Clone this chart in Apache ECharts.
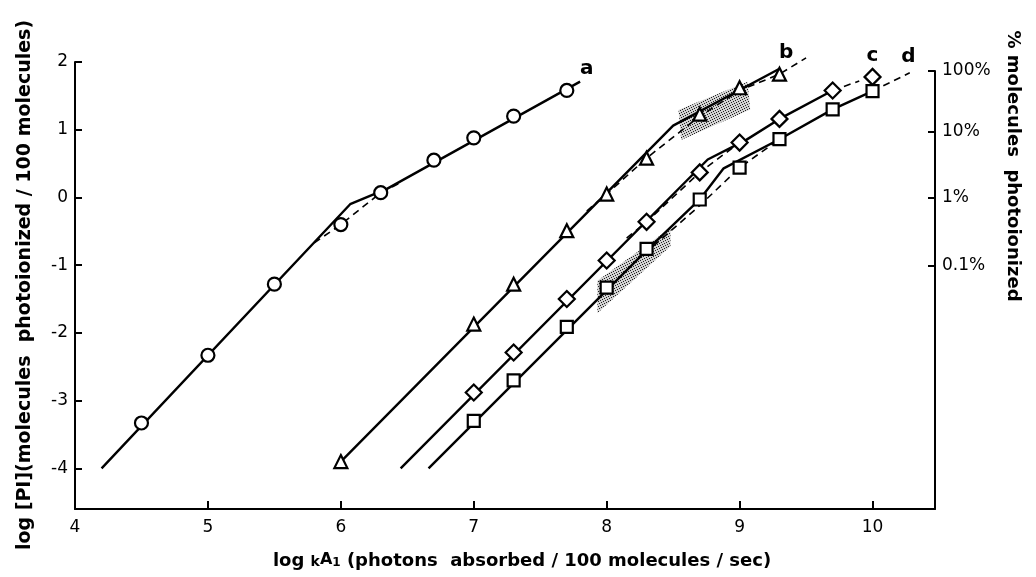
<!DOCTYPE html>
<html>
<head>
<meta charset="utf-8">
<script src="https://cdn.jsdelivr.net/npm/echarts@6/dist/echarts.min.js"></script>
<style>
html, body { margin: 0; padding: 0; background: #fff; }
#chart { width: 1036px; height: 577px; }
</style>
</head>
<body>
<div id="chart"></div>
<script>
// axis ticks
var xTicks = [4, 5, 6, 7, 8, 9, 10];
var yTicks = [-4, -3, -2, -1, 0, 1, 2];
var pctTicks = [1.87, 0.97, 0, -1];
var pctLabels = ['100%', '10%', '1%', '0.1%'];

// measured points (log k, log [PI])
var aX = [4.5, 5, 5.5, 6, 6.3, 6.7, 7, 7.3, 7.7];
var aY = [-3.33, -2.33, -1.28, -0.40, 0.07, 0.55, 0.88, 1.2, 1.58];
var bX = [6, 7, 7.3, 7.7, 8, 8.3, 8.7, 9, 9.3];
var bY = [-3.9, -1.87, -1.28, -0.49, 0.05, 0.58, 1.23, 1.62, 1.82];
var cX = [7, 7.3, 7.7, 8, 8.3, 8.7, 9, 9.3, 9.7, 10];
var cY = [-2.88, -2.29, -1.5, -0.93, -0.36, 0.37, 0.81, 1.16, 1.58, 1.78];
var dX = [7, 7.3, 7.7, 8, 8.3, 8.7, 9, 9.3, 9.7, 10];
var dY = [-3.3, -2.7, -1.91, -1.33, -0.76, -0.03, 0.44, 0.86, 1.3, 1.57];

// drawn curves: solid fits and dashed fits
var aSolid = [[4.2, -4], [6.07, -0.1], [6.35, 0.13], [7.8, 1.71]];
var aDash = [[5.8, -0.67], [6, -0.4], [6.3, 0.07], [6.45, 0.22]];
var bSolid = [[6, -3.9], [8.5, 1.06], [9.3, 1.9]];
var bDash = [[7.85, -0.2], [8, 0.05], [8.3, 0.58], [8.7, 1.2], [9, 1.58], [9.3, 1.82], [9.5, 2.06]];
var cSolid = [[6.45, -4], [8.76, 0.56], [9.05, 0.85], [9.3, 1.16], [9.7, 1.58]];
var cDash = [[8.15, -0.6], [8.3, -0.36], [8.7, 0.37], [9, 0.81]];
var cDash2 = [[9.7, 1.58], [9.9, 1.72]];
var dSolid = [[6.66, -4], [8.3, -0.78], [8.7, -0.03], [8.88, 0.43], [9.3, 0.86], [9.7, 1.3], [10, 1.57]];
var dDash = [[8.35, -0.72], [8.7, -0.12], [9, 0.44], [9.3, 0.86]];
var dDash2 = [[10, 1.57], [10.28, 1.84]];

// stippled regions
var shadeB = [[8.54, 1.29], [9.06, 1.71], [9.08, 1.30], [8.56, 0.85]];
var shadeD = [[7.93, -1.23], [8.48, -0.45], [8.48, -0.72], [7.93, -1.71]];

// curve letters
var curveNames = ['a', 'b', 'c', 'd'];
var curveNamePos = [[7.85, 1.9], [9.35, 2.13], [10.0, 2.09], [10.27, 2.08]];

var FONT = '"DejaVu Sans", sans-serif';

function zip(xs, ys) {
  return xs.map(function(x, i) { return [x, ys[i]] })
}

// stipple dots for the shaded bands
var dotCanvas = document.createElement('canvas')
dotCanvas.width = 5
dotCanvas.height = 5
var dctx = dotCanvas.getContext('2d')
dctx.fillStyle = 'rgba(0,0,0,0.18)'
dctx.fillRect(0, 0, 5, 5)
dctx.fillStyle = 'rgba(0,0,0,0.85)'
;[[0, 0], [3, 1], [1, 2], [4, 3], [2, 4]].forEach(function(p) {
  dctx.fillRect(p[0], p[1], 1, 1)
})

function shadeSeries(pts) {
  return {
    type: 'custom',
    xAxisIndex: 0,
    yAxisIndex: 0,
    clip: false,
    z: 1,
    data: pts,
    renderItem: function(params, api) {
      if (params.dataIndex !== 0) return
      var p = pts.map(function(d) { return api.coord(d) })
      return {
        type: 'polygon',
        shape: { points: p },
        style: { fill: { image: dotCanvas, repeat: 'repeat' } }
      }
    }
  }
}

function lineSeries(data, dashed) {
  return {
    type: 'line',
    xAxisIndex: 0,
    yAxisIndex: 0,
    data: data,
    showSymbol: false,
    symbol: 'none',
    clip: false,
    z: 2,
    lineStyle: { color: '#000', width: dashed ? 1.6 : 2.4, type: dashed ? [7, 5] : 'solid' }
  }
}

function markSeries(data, symbol, size) {
  return {
    type: 'scatter',
    xAxisIndex: 0,
    yAxisIndex: 0,
    data: data,
    symbol: symbol,
    symbolSize: size,
    clip: false,
    z: 3,
    itemStyle: { color: '#fff', borderColor: '#000', borderWidth: 2.2, opacity: 1 }
  }
}

var chart = echarts.init(document.getElementById('chart'))
chart.setOption({
  animation: false,
  backgroundColor: '#fff',
  grid: [
    { left: 75, right: 101, top: 62, bottom: 68, outerBoundsMode: 'none', containLabel: false },
    { left: 75, right: 101, top: 71, bottom: 68, outerBoundsMode: 'none', containLabel: false }
  ],
  xAxis: [
    {
      type: 'value', gridIndex: 0, min: 4, max: 10.47, interval: 1,
      axisLine: { show: true, onZero: false, lineStyle: { color: '#000', width: 2 } },
      axisTick: { show: true, inside: true, length: 8, lineStyle: { color: '#000', width: 2 } },
      axisLabel: {
        color: '#000', fontSize: 17, fontFamily: FONT, margin: 10,
        showMaxLabel: false,
        formatter: function(v) { return xTicks.indexOf(v) >= 0 ? String(v) : '' }
      },
      splitLine: { show: false }
    },
    { type: 'value', gridIndex: 1, min: 4, max: 10.47, show: false }
  ],
  yAxis: [
    {
      type: 'value', gridIndex: 0, min: -4.6, max: 2,
      axisLine: { show: true, onZero: false, lineStyle: { color: '#000', width: 2 } },
      axisTick: { show: true, inside: true, length: 7, customValues: yTicks, lineStyle: { color: '#000', width: 2 } },
      axisLabel: {
        color: '#000', fontSize: 17, fontFamily: FONT, margin: 7, customValues: yTicks,
        formatter: function(v) { return String(v) }
      },
      splitLine: { show: false }
    },
    {
      type: 'value', gridIndex: 1, position: 'right', min: -4.6, max: 1.87,
      axisLine: { show: true, onZero: false, lineStyle: { color: '#000', width: 2 } },
      axisTick: { show: true, inside: true, length: 7, customValues: pctTicks, lineStyle: { color: '#000', width: 2 } },
      axisLabel: {
        color: '#000', fontSize: 17, fontFamily: FONT, margin: 7, customValues: pctTicks,
        formatter: function(v) {
          var i = pctTicks.indexOf(v)
          return i >= 0 ? pctLabels[i] : ''
        }
      },
      splitLine: { show: false }
    }
  ],
  graphic: [
    {
      type: 'text', x: 25, y: 285, rotation: Math.PI / 2,
      style: {
        text: 'log [PI](molecules  photoionized / 100 molecules)',
        fill: '#000', font: 'bold 19px ' + FONT, align: 'center', verticalAlign: 'middle'
      }
    },
    {
      type: 'text', x: 1013, y: 166, rotation: -Math.PI / 2,
      style: {
        text: '% molecules  photoionized',
        fill: '#000', font: 'bold 18px ' + FONT, align: 'center', verticalAlign: 'middle'
      }
    },
    {
      type: 'text', x: 522, y: 561,
      style: {
        text: '{n|log }{k|k}{s|A}{t|1}{n| (photons  absorbed / 100 molecules / sec)}',
        fill: '#000', font: 'bold 18px ' + FONT, align: 'center', verticalAlign: 'middle',
        rich: {
          n: { fontSize: 18, fontFamily: FONT, fontWeight: 'bold', height: 28, verticalAlign: 'middle' },
          k: { fontSize: 14, fontFamily: FONT, fontWeight: 'bold', verticalAlign: 'top', height: 28, padding: [3, 0, 0, 0] },
          s: { fontSize: 16, fontFamily: FONT, fontWeight: 'bold', verticalAlign: 'bottom', height: 28, padding: [0, 0, 3, 0] },
          t: { fontSize: 12, fontFamily: FONT, fontWeight: 'bold', verticalAlign: 'bottom', height: 28 }
        }
      }
    }
  ],
  series: [
    shadeSeries(shadeB),
    shadeSeries(shadeD),
    lineSeries(aSolid, false),
    lineSeries(aDash, true),
    lineSeries(bSolid, false),
    lineSeries(bDash, true),
    lineSeries(cSolid, false),
    lineSeries(cDash, true),
    lineSeries(cDash2, true),
    lineSeries(dSolid, false),
    lineSeries(dDash, true),
    lineSeries(dDash2, true),
    markSeries(zip(aX, aY), 'circle', 13),
    markSeries(zip(bX, bY), 'triangle', 13),
    markSeries(zip(cX, cY), 'diamond', 16),
    markSeries(zip(dX, dY), 'rect', 12),
    {
      type: 'scatter',
      xAxisIndex: 0,
      yAxisIndex: 0,
      clip: false,
      symbolSize: 0,
      z: 4,
      itemStyle: { opacity: 1 },
      data: curveNamePos.map(function(p, i) { return { value: p, name: curveNames[i] } }),
      label: {
        show: true, position: 'inside', formatter: '{b}',
        color: '#000', fontSize: 20, fontWeight: 'bold', fontFamily: FONT, opacity: 1
      }
    }
  ]
})
</script>
</body>
</html>
